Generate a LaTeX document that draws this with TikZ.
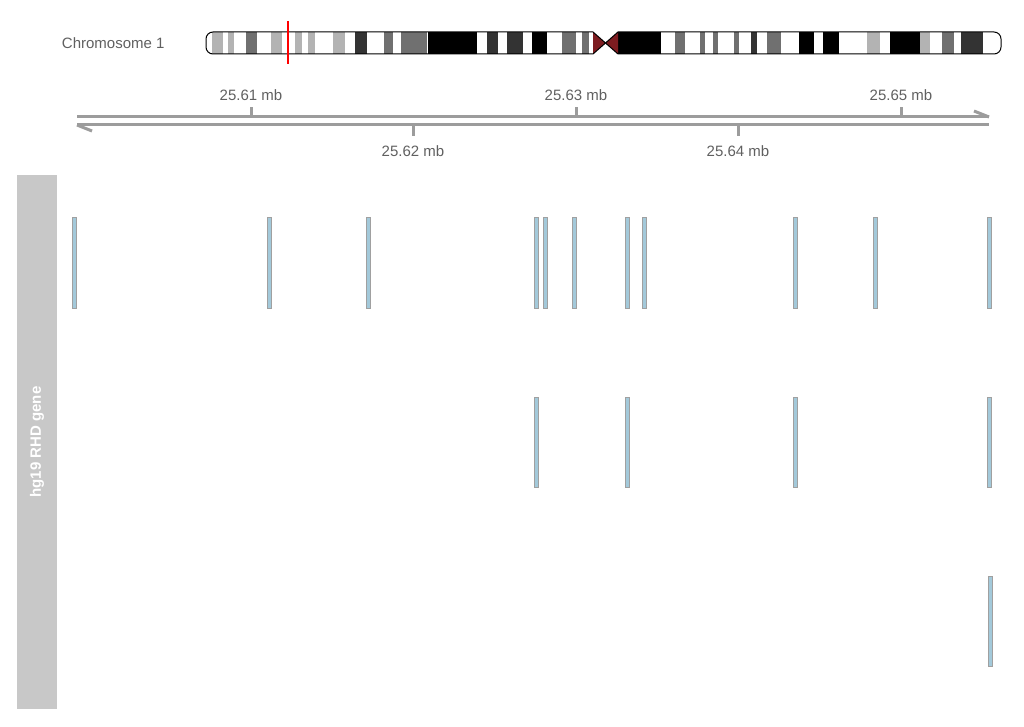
\documentclass[tikz,border=0pt]{standalone}
\usepackage{fontspec}
\setsansfont{Liberation Sans}
\usetikzlibrary{positioning}
\definecolor{gvgray}{HTML}{9C9C9C}
\definecolor{gvtext}{HTML}{606060}
\definecolor{gvstrip}{HTML}{C8C8C8}
\definecolor{gvexon}{HTML}{A3C9DA}
\definecolor{gvexonline}{HTML}{A0A0A0}
\definecolor{bandK}{HTML}{000000}
\definecolor{bandD}{HTML}{333333}
\definecolor{bandM}{HTML}{707070}
\definecolor{bandL}{HTML}{B3B3B3}
\definecolor{cenred}{HTML}{7D1C20}

\begin{document}
\begin{tikzpicture}[x=1pt, y=-1pt, font=\sffamily\fontsize{15}{18}\selectfont,
  axisline/.style={draw=gvgray, line width=3pt},
  ticklab/.style={text=gvtext, inner sep=0pt},
  chrline/.style={draw=black, line width=1pt},
  strip/.style={rectangle, fill=gvstrip, minimum width=40pt, minimum height=534pt, inner sep=0pt},
  striplab/.style={text=white, font=\sffamily\bfseries\fontsize{15}{18}\selectfont, inner sep=0pt},
  exon/.style={rectangle, draw=gvexonline, line width=1pt, fill=gvexon, minimum width=4pt, minimum height=90pt, inner sep=0pt}]
\useasboundingbox (0,0) rectangle (1024,727);

% ideogram
\coordinate (chrL) at (206,43);
\begin{scope}
  \clip[rounded corners=7pt] (206,32) rectangle (1001,54);
  \foreach \a/\b/\c in {212/223/bandL, 228/234/bandL, 246/257/bandM, 271/282/bandL,
      295/302/bandL, 308/315/bandL, 333/345/bandL, 355/367/bandD, 384/393/bandM,
      401/427/bandM, 428/477/bandK, 487/498/bandD, 507/523/bandD, 532/547/bandK,
      562/576/bandM, 582/589/bandM,
      618/661/bandK, 675/685/bandM, 700/705/bandM, 713/718/bandM, 734/739/bandM,
      751/757/bandD, 767/781/bandM, 799/814/bandK, 823/839/bandK, 867/880/bandL,
      890/920/bandK, 920/930/bandL, 942/954/bandM, 961/983/bandD}
    \fill[\c] (\a,32) rectangle (\b,54);
\end{scope}
\coordinate (cen) at (605.5,43);
\fill[cenred] (593,32) -- (cen) -- (593,54) -- cycle;
\fill[cenred] (618,32) -- (cen) -- (618,54) -- cycle;
\draw[chrline] (593,32) [rounded corners=7pt] -- (206,32) -- (206,54) [sharp corners] -- (593,54) -- (cen) -- cycle;
\draw[chrline] (618,32) [rounded corners=7pt] -- (1001,32) -- (1001,54) [sharp corners] -- (618,54) -- (cen) -- cycle;
\draw[red, line width=1.5pt] (288,21) -- (288,64);
\node[text=gvtext, left=38pt of chrL] (chrlab) {Chromosome 1};

% axis
\coordinate (upL) at (77,117);
\coordinate (upR) at (989,117);
\coordinate (upH) at (974,111);
\coordinate (loL) at (77,125);
\coordinate (loR) at (989,125);
\coordinate (loH) at (92,131);
\draw[axisline] (upL) -- (upR);
\draw[axisline] (upR) -- (upH);
\draw[axisline] (loL) -- (loR);
\draw[axisline] (loL) -- (loH);
\foreach \x/\l [count=\i] in {251/25.61, 576/25.63, 901/25.65} {
  \coordinate (ut\i) at (\x,107);
  \draw[axisline] (\x,117) -- (ut\i);
  \node[ticklab, above=6pt of ut\i] (ul\i) {\l\ mb};
}
\foreach \x/\l [count=\i] in {413/25.62, 738/25.64} {
  \coordinate (lt\i) at (\x,136);
  \draw[axisline] (\x,125) -- (lt\i);
  \node[ticklab, below=9pt of lt\i] (ll\i) {\l\ mb};
}

% track
\node[strip] (strip) at (37,442) {};
\node[striplab, rotate=90] (tracklab) at (strip.center) {hg19 RHD gene};
\foreach \x [count=\i] in {74, 269, 368, 536, 545, 574, 627, 644, 795, 875, 989}
  \node[exon] (exA\i) at (\x,263) {};
\foreach \x [count=\i] in {536, 627, 795, 989}
  \node[exon] (exB\i) at (\x,442) {};
\node[exon] (exC1) at (990,621) {};
\end{tikzpicture}
\end{document}
